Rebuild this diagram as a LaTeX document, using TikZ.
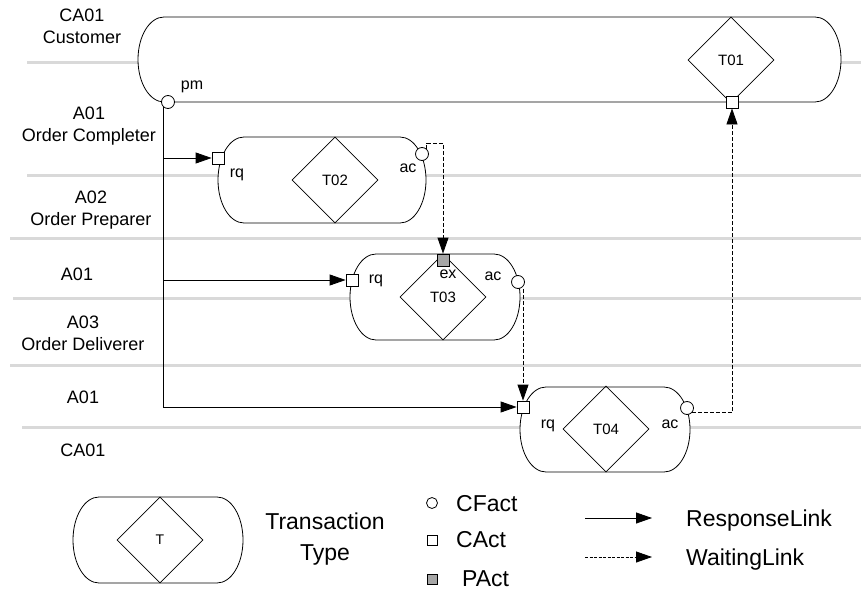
\documentclass[tikz,border=0pt]{standalone}
\usepackage{fontspec}
\setmainfont{Liberation Sans}
\usetikzlibrary{arrows.meta, shapes.geometric}

\tikzset{
  capsule/.style={draw, fill=white, line width=0.8pt},
  ttype/.style={draw, diamond, line width=0.8pt, minimum width=86pt, minimum height=86pt,
                inner sep=0pt, font=\fontsize{15}{17}\selectfont},
  cact/.style={draw, fill=white, line width=0.8pt, minimum size=12pt, inner sep=0pt},
  pact/.style={cact, fill=black!35},
  cfact/.style={draw, fill=white, circle, line width=0.8pt, minimum size=13pt, inner sep=0pt},
  lane/.style={line width=3pt, black!15},
  lanetxt/.style={align=center, font=\fontsize{18}{22}\selectfont},
  acttxt/.style={inner sep=0pt, font=\fontsize{16}{18}\selectfont},
  legtxt/.style={inner sep=0pt, font=\fontsize{23}{26}\selectfont},
  response/.style={draw, line width=0.8pt, -{Triangle[length=16pt,width=11pt]}},
  waiting/.style={response, dash pattern=on 4pt off 2pt}
}

% transaction capsule: left x, right x, top y, bottom y
\newcommand{\tcapsule}[4]{%
  \draw[capsule] ({#1+26},#3) -- ({#2-26},#3)
    arc[start angle=-90, end angle=90, x radius=26, y radius={(#4-#3)/2}]
    -- ({#1+26},#4)
    arc[start angle=90, end angle=270, x radius=26, y radius={(#4-#3)/2}] -- cycle;}

\begin{document}
\begin{tikzpicture}[x=1pt, y=-1pt]
  \useasboundingbox (0,0) rectangle (861,591);

  % swimlanes
  \foreach \x/\y in {27/63, 27/175, 10/238, 13/298, 10/365, 22/427}
    \draw[lane] (\x,\y) -- (861,\y);

  \node[lanetxt] (ca1) at (82,26) {CA01\\Customer};
  \node[lanetxt] (a1) at (89,126) {A01\\Order Completer};
  \node[lanetxt] (a2) at (91,210) {A02\\Order Preparer};
  \node[lanetxt] (a1b) at (77,274) {A01};
  \node[lanetxt] (a3) at (83,333) {A03\\Order Deliverer};
  \node[lanetxt] (a1c) at (83,397) {A01};
  \node[lanetxt] (ca1b) at (83,450) {CA01};

  % transactions
  \tcapsule{138}{841}{17}{102}
  \tcapsule{218}{426}{137}{223}
  \tcapsule{350}{520}{254}{340}
  \tcapsule{520}{690}{387}{472}

  \node[ttype] (t1) at (731,60) {T01};
  \node[ttype] (t2) at (335,180) {T02};
  \node[ttype] (t3) at (443,297) {T03};
  \node[ttype] (t4) at (606,429) {T04};

  % acts and facts
  \node[cfact] (pm) at (168,102) {};
  \node[cact] (ct1) at (732,102) {};
  \node[cact] (rq2) at (218,158) {};
  \node[cfact] (ac2) at (422,154) {};
  \node[cact] (rq3) at (352,280) {};
  \node[pact] (ex3) at (443,260) {};
  \node[cfact] (ac3) at (518,282) {};
  \node[cact] (rq4) at (523,407) {};
  \node[cfact] (ac4) at (687,408) {};

  \node[acttxt] (lpm) at (192,87) {pm};
  \node[acttxt] (lrq2) at (237,175) {rq};
  \node[acttxt] (lac2) at (408,168) {ac};
  \node[acttxt] (lrq3) at (376,281) {rq};
  \node[acttxt] (lex3) at (448,274) {ex};
  \node[acttxt] (lac3) at (493,276) {ac};
  \node[acttxt] (lrq4) at (548,426) {rq};
  \node[acttxt] (lac4) at (670,424) {ac};

  % links
  \draw[response] (pm.south west) |- (rq4);
  \draw[response] (pm.south west |- rq2) -- (rq2);
  \draw[response] (pm.south west |- rq3) -- (rq3);
  \coordinate (wt) at (443,143);
  \draw[waiting] (ac2.north east) |- (wt) -- (ex3);
  \draw[waiting] (ac3.south -| rq4) -- (rq4);
  \draw[waiting] (ac4.south east) -| (ct1);

  % legend
  \tcapsule{73}{243}{497}{583}
  \node[ttype, font=\fontsize{14}{16}\selectfont] (tl) at (160,540) {T};
  \node[legtxt, anchor=base] (ltr) at (325,529) {Transaction};
  \node[legtxt, anchor=base] (lty) at (325,560) {Type};

  \node[cfact, minimum size=11pt] (lcf) at (432,503) {};
  \node[cact, minimum size=10pt] (lca) at (432,540) {};
  \node[pact, minimum size=10pt] (lpa) at (432,579) {};
  \node[legtxt, anchor=base west] (tcf) at (456,511) {CFact};
  \node[legtxt, anchor=base west] (tca) at (456,547) {CAct};
  \node[legtxt, anchor=base west] (tpa) at (462,586) {PAct};

  \coordinate (ra) at (585,518);
  \coordinate (rb) at (652,518);
  \draw[response] (ra) -- (rb);
  \node[legtxt, anchor=base west] (tre) at (686,526) {ResponseLink};
  \coordinate (wa) at (585,557);
  \coordinate (wb) at (652,557);
  \draw[response, dash pattern=on 3pt off 1.5pt] (wa) -- (wb);
  \node[legtxt, anchor=base west] (twa) at (686,565) {WaitingLink};
\end{tikzpicture}
\end{document}
